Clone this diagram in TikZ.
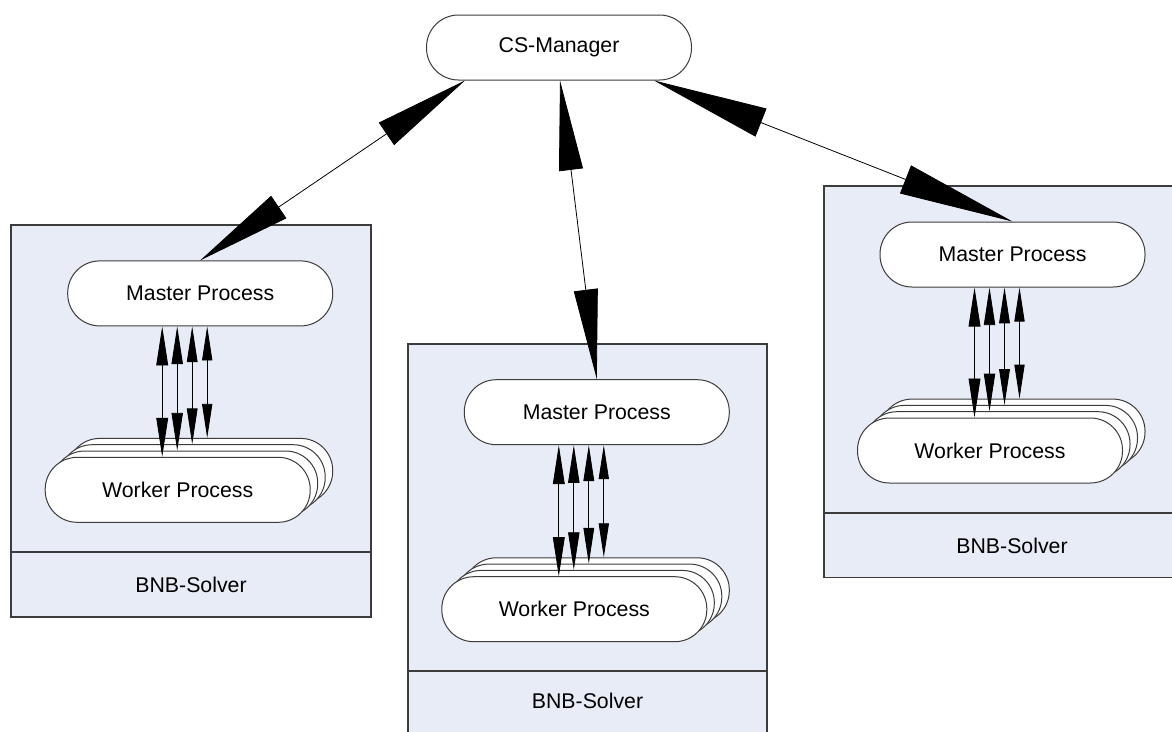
\documentclass[tikz,border=0pt]{standalone}
\usepackage{fontspec}
\setmainfont{Liberation Sans}
\usetikzlibrary{arrows.meta,calc}

\definecolor{panel}{RGB}{231,236,246}
\definecolor{edge}{RGB}{60,60,60}

\tikzset{
  proc/.style={draw=edge, line width=1pt, fill=white, rounded corners=32pt,
    minimum width=265pt, minimum height=65pt, inner sep=0pt,
    font=\fontsize{21.3}{25}\selectfont},
  panelbox/.style={draw=edge, line width=1.3pt, fill=panel},
  divider/.style={draw=edge, line width=1.3pt},
  caption/.style={font=\fontsize{21.3}{25}\selectfont, inner sep=0pt},
  link/.style={line width=0.8pt, draw=black},
}

% stack of four worker processes, front one at (#2,#3)
\newcommand\workerstack[3]{%
  \foreach \k in {3,2,1}
    \node[proc] (#1\k) at ({#2+7.5*\k}, {#3-6.3*\k}) {};
  \node[proc] (#10) at (#2,#3) {Worker Process};
}

% four master<->worker links, each ending on its own layer of the stack
\newcommand\masterlinks[2]{%
  \foreach \i/\dx/\hl/\hw in {0/-38/39/11.8, 1/-23/37.6/11.3, 2/-8/35.8/10.7, 3/7/34/10.2} {
    \coordinate (#1t\i) at ([xshift=\dx pt]#1.south);
    \draw[link, {Triangle[length=\hl pt,width=\hw pt]}-{Triangle[length=\hl pt,width=\hw pt]}]
      (#1t\i) -- (#1t\i |- #2\i.north);
  }
}

\begin{document}
\begin{tikzpicture}[x=1pt,y=-1pt]
\useasboundingbox (0,0) rectangle (1172,731);
\clip (0,0) rectangle (1172,731);
\fill[white] (0,0) rectangle (1172,731);

% solver panels
\draw[panelbox] (11,225) rectangle (371,617);
\draw[divider] (11,552) -- (371,552);
\node[caption] (sa) at (191,584.5) {BNB-Solver};

\draw[panelbox] (408,344) rectangle (767,745);
\draw[divider] (408,671) -- (767,671);
\node[caption] (sb) at (587.5,701) {BNB-Solver};

\draw[panelbox] (824,186) rectangle (1185,577.5);
\draw[divider] (824,513) -- (1185,513);
\node[caption] (sc) at (1012,545.5) {BNB-Solver};

% processes
\node[proc] (cs) at (559,47.5) {CS-Manager};

\node[proc] (ma) at (200.2,293.4) {Master Process};
\workerstack{wa}{177.7}{489.8}

\node[proc] (mb) at (596.8,412.2) {Master Process};
\workerstack{wb}{574.3}{609.2}

\node[proc] (mc) at (1012.5,254.5) {Master Process};
\workerstack{wc}{990}{450.5}

% master <-> worker links
\masterlinks{ma}{wa}
\masterlinks{mb}{wb}
\masterlinks{mc}{wc}

% manager <-> master links
\draw[link, {Triangle[length=95pt,width=27pt]}-{Triangle[length=95pt,width=27pt]}]
  ([xshift=-94pt]cs.south) -- (ma.north);
\draw[link, {Triangle[length=90pt,width=24pt]}-{Triangle[length=90pt,width=24pt]}]
  ([xshift=1pt]cs.south) -- (mb.north);
\draw[link, {Triangle[length=115pt,width=30pt]}-{Triangle[length=115pt,width=30pt]}]
  ([xshift=95pt]cs.south) -- (mc.north);
\end{tikzpicture}
\end{document}
